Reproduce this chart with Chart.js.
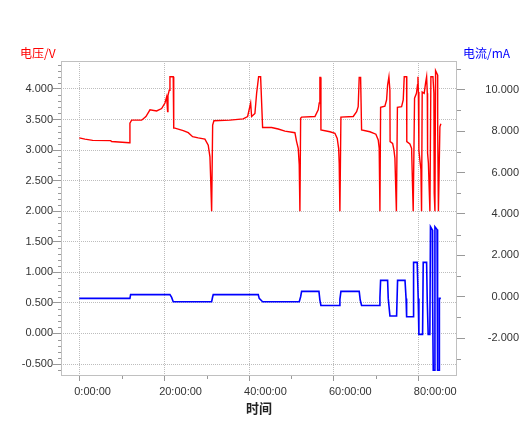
<!DOCTYPE html>
<html>
<head>
<meta charset="utf-8">
<script src="https://cdn.jsdelivr.net/npm/chart.js@4"></script>
<style>
  body { margin: 0; background: #fff; }
  canvas { display: block; }
</style>
</head>
<body>
<canvas id="c" width="519" height="428"></canvas>
<script>
// time axis in hours
const timeV = [0, 1.34, 3.16, 7.40, 7.63, 11.78, 11.94, 12.34, 14.70, 15.71,
  16.66, 18.23, 19.41, 20.19, 20.59, 20.82, 20.90, 21.20, 21.37, 22.14,
  22.21, 22.31, 22.54, 24.50, 25.68, 26.71, 28.03, 29.61, 30.39, 30.79,
  30.95, 31.19, 31.43, 31.73, 35.50, 38.63, 39.67, 40.38, 40.61, 41.39,
  41.79, 42.26, 42.73, 43.20, 45.32, 46.88, 48.46, 50.81, 51.21, 51.59,
  51.83, 51.99, 52.16, 52.39, 55.53, 56.30, 56.54, 56.70, 56.87, 56.94,
  59.06, 60.24, 60.78, 61.11, 61.25, 61.41, 61.65, 64.55, 65.35, 65.72,
  65.96, 66.29, 66.52, 68.48, 69.89, 70.44, 70.67, 70.84, 71.00, 72.01,
  72.41, 72.65, 72.96, 73.19, 73.24, 73.83, 74.13, 74.37, 74.72, 74.96,
  75.95, 76.33, 76.57, 77.13, 77.17, 77.90, 78.30, 78.68, 79.0, 79.45,
  79.7, 79.8, 79.9, 80.02, 80.25, 80.5, 80.65, 80.8, 81.27, 81.6,
  81.84, 82.0, 82.07, 82.26, 82.62, 82.85, 83.33, 83.56, 83.63, 83.8,
  83.95, 84.42, 84.45, 84.62, 84.97, 85.2];
const voltage = [3.20, 3.18, 3.16, 3.155, 3.14, 3.12, 3.44, 3.49, 3.49, 3.55,
  3.66, 3.64, 3.68, 3.77, 3.87, 3.63, 3.89, 3.98, 4.20, 4.20,
  4.14, 3.36, 3.36, 3.32, 3.285, 3.22, 3.20, 3.18, 3.08, 2.89,
  2.56, 2.0, 3.41, 3.48, 3.49, 3.51, 3.55, 3.77, 3.55, 3.60,
  3.93, 4.20, 4.20, 3.37, 3.37, 3.345, 3.31, 3.285, 3.14, 3.03,
  2.76, 2.0, 3.52, 3.54, 3.55, 3.66, 3.77, 4.19, 4.19, 3.33,
  3.30, 3.275, 3.19, 3.03, 2.78, 2.0, 3.54, 3.55, 3.63, 3.71,
  4.19, 4.19, 3.33, 3.30, 3.26, 3.165, 3.03, 2.0, 3.70, 3.72,
  3.82, 4.065, 4.20, 3.98, 3.14, 3.11, 3.01, 2.87, 2.0, 3.70,
  3.71, 3.82, 4.20, 4.20, 3.14, 3.10, 3.03, 2.0, 3.85, 3.93,
  4.07, 4.20, 3.95, 3.00, 2.84, 2.68, 2.0, 3.95, 3.93, 4.10,
  4.20, 3.93, 2.95, 2.79, 2.0, 4.20, 4.20, 3.93, 2.30, 2.0,
  4.30, 4.23, 3.39, 2.0, 3.38, 3.43];

const timeI = [0, 11.94, 12.1, 21.37, 21.77, 22.14, 31.19, 31.43, 31.57, 42.17,
  42.4, 43.2, 51.83, 52.16, 52.39, 56.47, 56.7, 56.94, 61.25, 61.41,
  61.65, 65.96, 66.2, 66.52, 70.67, 70.84, 71.0, 72.65, 72.8, 73.2,
  74.77, 75.0, 76.75, 77.0, 77.13, 78.68, 78.77, 79.62, 79.86, 80.02,
  80.89, 81.04, 81.84, 81.98, 82.21, 82.6, 82.75, 83.2, 83.25, 83.4,
  83.7, 83.8, 84.3, 84.35, 84.5, 84.8, 84.85, 85.2];
const current = [-0.08, -0.08, 0.10, 0.10, -0.03, -0.24, -0.24, 0.0, 0.10, 0.10,
  -0.08, -0.24, -0.24, 0.0, 0.26, 0.26, -0.16, -0.42, -0.42, -0.13,
  0.26, 0.26, -0.16, -0.42, -0.42, -0.05, 0.79, 0.79, -0.08, -0.93,
  -0.93, 0.79, 0.79, -0.08, -0.97, -0.97, 1.66, 1.66, -0.08, -1.82,
  -1.82, 1.66, 1.66, -0.08, -1.82, -1.82, 3.38, 3.22, -0.08, -3.55,
  -3.55, 3.38, 3.25, -0.08, -3.55, -3.55, -0.08, -0.08];

const xTicks = [0, 20, 40, 60, 80];
const voltTicks = [-0.5, 0, 0.5, 1, 1.5, 2, 2.5, 3, 3.5, 4];
const currTicks = [-2, 0, 2, 4, 6, 8, 10];

const labelFont = { family: "'Liberation Sans', Arial, sans-serif", size: 11 };
const labelColor = "#333";

const toPoints = (xs, ys) => xs.map((x, i) => ({ x, y: ys[i] }));

// border box, minor ticks and the two axis captions
const frame = {
  id: "frame",
  afterDraw(chart) {
    const { ctx, chartArea: a, scales } = chart;
    ctx.save();
    ctx.strokeStyle = "#c0c0c0";
    ctx.lineWidth = 1;
    ctx.strokeRect(a.left + 0.5, a.top + 0.5, a.right - a.left - 1, a.bottom - a.top - 1);

    ctx.strokeStyle = "#999";
    ctx.beginPath();
    for (let k = -7; k <= 45; k++) {
      if (k % 5 === 0) continue;
      const y = Math.round(scales.yL.getPixelForValue(k / 10)) + 0.5;
      if (y < a.top || y > a.bottom) continue;
      ctx.moveTo(a.left - 3, y);
      ctx.lineTo(a.left, y);
    }
    for (let v = -3; v <= 11; v += 2) {
      const y = Math.round(scales.yR.getPixelForValue(v)) + 0.5;
      if (y < a.top || y > a.bottom) continue;
      ctx.moveTo(a.right, y);
      ctx.lineTo(a.right + 4, y);
    }
    for (let v = 10; v <= 90; v += 20) {
      const x = Math.round(scales.x.getPixelForValue(v)) + 0.5;
      if (x < a.left || x > a.right) continue;
      ctx.moveTo(x, a.bottom);
      ctx.lineTo(x, a.bottom + 3);
    }
    ctx.stroke();

    ctx.font = "12px 'Noto Sans CJK SC', sans-serif";
    ctx.textBaseline = "middle";
    ctx.textAlign = "left";
    ctx.fillStyle = "#ff0000";
    ctx.fillText("电压/V", 20, 53);
    ctx.fillStyle = "#0000ff";
    ctx.fillText("电流/mA", 463, 53);
    ctx.restore();
  },
};

new Chart(document.getElementById("c"), {
  type: "line",
  data: {
    datasets: [
      {
        data: toPoints(timeV, voltage),
        yAxisID: "yL",
        borderColor: "#ff0000",
        borderWidth: 1.4,
        pointRadius: 0,
        tension: 0,
      },
      {
        data: toPoints(timeI, current),
        yAxisID: "yR",
        borderColor: "#0000ff",
        borderWidth: 1.6,
        pointRadius: 0,
        tension: 0,
      },
    ],
  },
  options: {
    responsive: false,
    animation: false,
    layout: { padding: { top: 61, left: 0, right: 0, bottom: 0 } },
    plugins: { legend: { display: false }, tooltip: { enabled: false } },
    scales: {
      x: {
        type: "linear",
        position: "bottom",
        min: -4.3,
        max: 89,
        afterBuildTicks: (s) => { s.ticks = xTicks.map((v) => ({ value: v })); },
        afterFit: (s) => { s.height = 52; },
        ticks: {
          align: "start",
          labelOffset: -5,
          padding: 4,
          maxRotation: 0,
          autoSkip: false,
          color: labelColor,
          font: labelFont,
          callback: (v) => v + ":00:00",
        },
        grid: { color: "#bdbdbd", tickColor: "#999", tickLength: 5 },
        border: { display: false, dash: [1, 1] },
        title: {
          display: true,
          text: "时间",
          color: "#222",
          font: { family: "'Noto Sans CJK SC', sans-serif", size: 13, weight: "bold" },
          padding: { top: 0, bottom: 12 },
        },
      },
      yL: {
        type: "linear",
        position: "left",
        min: -0.696,
        max: 4.458,
        afterBuildTicks: (s) => { s.ticks = voltTicks.map((v) => ({ value: v })); },
        afterFit: (s) => { s.width = 61; },
        ticks: { padding: 0, color: labelColor, font: labelFont, callback: (v) => v.toFixed(3) },
        grid: { color: "#bdbdbd", tickColor: "#999", tickLength: 8 },
        border: { display: false, dash: [1, 1] },
      },
      yR: {
        type: "linear",
        position: "right",
        min: -3.83,
        max: 11.39,
        afterBuildTicks: (s) => { s.ticks = currTicks.map((v) => ({ value: v })); },
        afterFit: (s) => { s.width = 62; },
        ticks: {
          padding: 8,
          crossAlign: "far",
          color: labelColor,
          font: labelFont,
          callback: (v) => v.toFixed(3),
        },
        grid: { drawOnChartArea: false, tickColor: "#999", tickLength: 8 },
        border: { display: false },
      },
    },
  },
  plugins: [frame],
});
</script>
</body>
</html>
